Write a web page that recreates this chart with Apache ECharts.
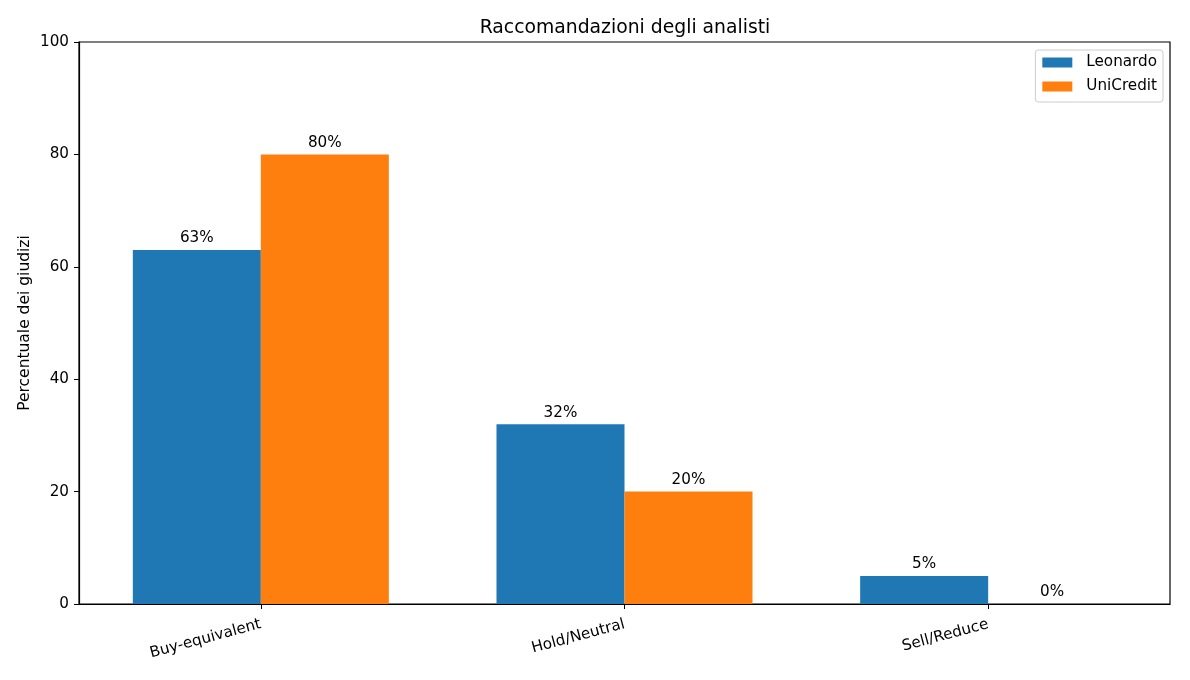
<!DOCTYPE html>
<html>
<head>
<meta charset="utf-8">
<script src="https://cdn.jsdelivr.net/npm/echarts@6/dist/echarts.min.js"></script>
<style>
  html, body { margin: 0; padding: 0; background: #fff; }
  #chart { width: 1190px; height: 680px; }
</style>
</head>
<body>
<div id="chart"></div>
<script>
const categories = ['Buy-equivalent', 'Hold/Neutral', 'Sell/Reduce']
const leonardo = [63, 32, 5]
const unicredit = [80, 20, 0]
const yTicks = [0, 20, 40, 60, 80, 100]

const font = 'DejaVu Sans'
const fs = 15.2
const chart = echarts.init(document.getElementById('chart'))

const labelOpt = {
  show: true,
  position: 'top',
  distance: 4,
  formatter: p => p.value + '%',
  color: '#000',
  fontFamily: font,
  fontSize: fs
}

const option = {
  animation: false,
  textStyle: { fontFamily: font },
  title: {
    text: 'Raccomandazioni degli analisti',
    left: 620,
    textAlign: 'center',
    top: 14,
    textStyle: { fontFamily: font, fontSize: 18.8, fontWeight: 'normal', color: '#000' }
  },
  legend: {
    right: 27,
    top: 50,
    orient: 'vertical',
    icon: 'rect',
    itemWidth: 30,
    itemHeight: 10,
    itemGap: 9,
    padding: [5, 6, 8, 7],
    borderColor: '#ccc',
    borderWidth: 1,
    borderRadius: 3,
    textStyle: { fontFamily: font, fontSize: fs, color: '#000', padding: [0, 0, 0, 9] },
    data: ['Leonardo', 'UniCredit']
  },
  grid: {
    left: 79,
    right: 20,
    top: 42,
    bottom: 76,
    show: true,
    borderColor: '#000',
    borderWidth: 1.2,
    containLabel: false
  },
  xAxis: {
    type: 'category',
    data: categories,
    axisLine: { show: true, lineStyle: { color: '#000', width: 1.2 } },
    axisTick: { show: true, alignWithLabel: true, length: 5, lineStyle: { color: '#000' } },
    axisLabel: {
      rotate: 15,
      margin: 20,
      color: '#000',
      fontFamily: font,
      fontSize: fs,
      interval: 0
    }
  },
  yAxis: {
    type: 'value',
    min: 0,
    max: 100,
    interval: 20,
    name: 'Percentuale dei giudizi',
    nameLocation: 'middle',
    nameGap: 46,
    nameMoveOverlap: false,
    nameTextStyle: { fontFamily: font, fontSize: 15.5, color: '#000' },
    splitLine: { show: false },
    axisLine: { show: true, lineStyle: { color: '#000', width: 1.2 } },
    axisTick: { show: true, length: 5, lineStyle: { color: '#000' } },
    axisLabel: {
      margin: 10,
      color: '#000',
      fontFamily: font,
      fontSize: fs,
      formatter: v => yTicks.includes(v) ? String(v) : ''
    }
  },
  series: [
    {
      name: 'Leonardo',
      type: 'bar',
      data: leonardo,
      barWidth: 128,
      barGap: '0%',
      itemStyle: { color: '#1f77b4' },
      label: labelOpt
    },
    {
      name: 'UniCredit',
      type: 'bar',
      data: unicredit,
      barWidth: 128,
      barGap: '0%',
      itemStyle: { color: '#ff7f0e' },
      label: labelOpt
    }
  ]
}

chart.setOption(option)
</script>
</body>
</html>
